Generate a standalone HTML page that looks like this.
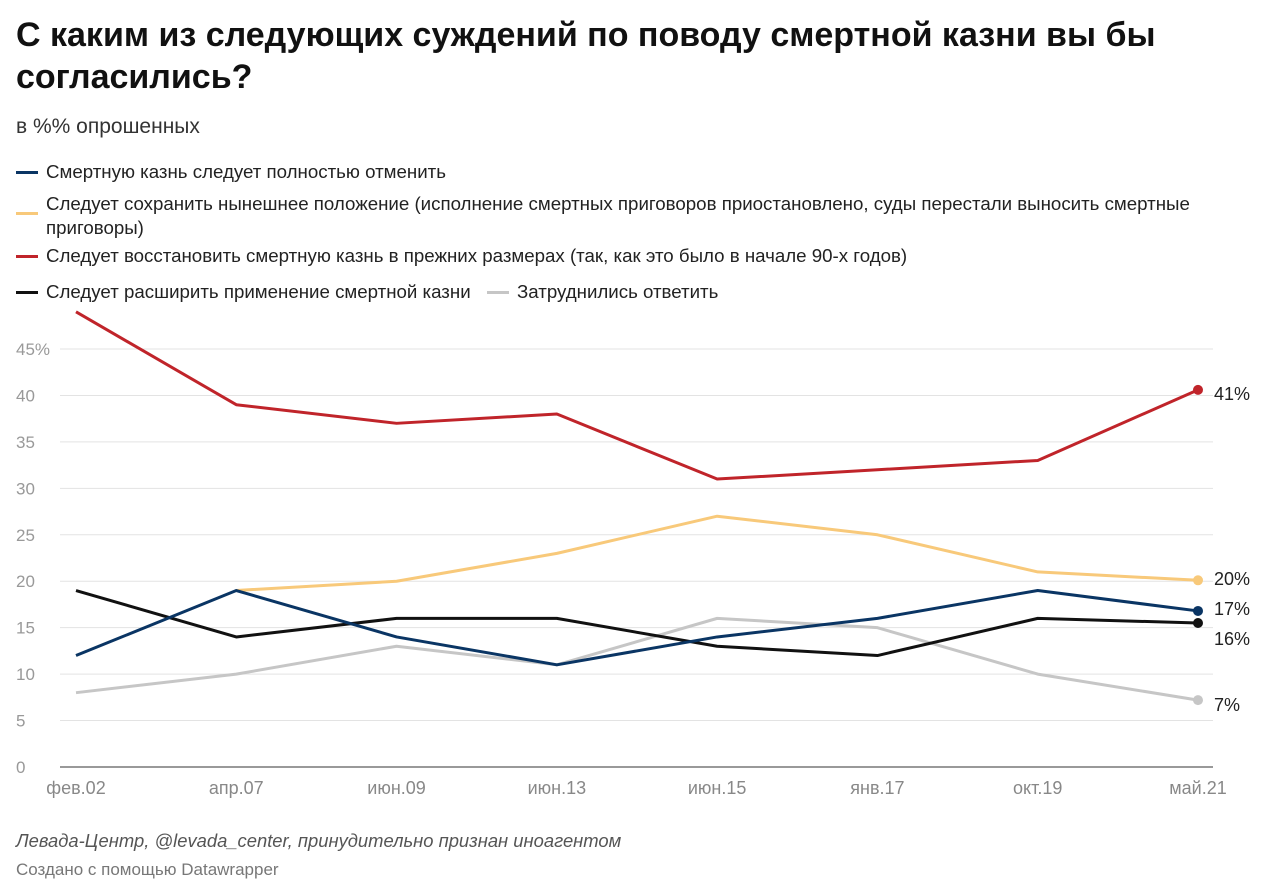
<!DOCTYPE html>
<html><head><meta charset="utf-8"><style>
body{margin:0;background:#fff;font-family:"Liberation Sans","Noto Sans CJK SC",sans-serif;width:1280px;height:896px;overflow:hidden;position:relative}
h1{position:absolute;left:16px;top:14px;margin:0;font-size:34px;line-height:42px;font-weight:bold;color:#111;width:1240px}
.sub{position:absolute;left:16px;top:115px;font-size:21px;color:#333}
.leg{position:absolute;font-size:18.7px;color:#222;line-height:24px}
.sw{position:absolute;width:22px;height:3px}
.foot{position:absolute;left:16px;font-size:18.4px;color:#555}
</style></head><body>
<h1>С каким из следующих суждений по поводу смертной казни вы бы согласились?</h1>
<div class="sub">в %% опрошенных</div>
<div>
<div class="sw" style="left:16px;top:171px;background:#0a3564"></div><div class="leg" style="left:46px;top:160px">Смертную казнь следует полностью отменить</div>
<div class="sw" style="left:16px;top:212px;background:#f8c97a"></div><div class="leg" style="left:46px;top:192px;width:1170px">Следует сохранить нынешнее положение (исполнение смертных приговоров приостановлено, суды перестали выносить смертные приговоры)</div>
<div class="sw" style="left:16px;top:255px;background:#c0242a"></div><div class="leg" style="left:46px;top:244px">Следует восстановить смертную казнь в прежних размерах (так, как это было в начале 90-х годов)</div>
<div class="sw" style="left:16px;top:291px;background:#111"></div><div class="leg" style="left:46px;top:280px">Следует расширить применение смертной казни</div>
<div class="sw" style="left:487px;top:291px;background:#c6c6c6"></div><div class="leg" style="left:517px;top:280px">Затруднились ответить</div>
</div>
<svg id="chart" width="1280" height="896" style="position:absolute;left:0;top:0"></svg>
<div class="foot" style="top:830px;font-style:italic">Левада-Центр, @levada_center, принудительно признан иноагентом</div>
<div class="foot" style="top:860px;font-size:17px;color:#777">Создано с помощью Datawrapper</div>
<script>
const categories=["фев.02","апр.07","июн.09","июн.13","июн.15","янв.17","окт.19","май.21"];
const restore=[49,39,37,38,31,32,33,40.6];
const keep=[null,19,20,23,27,25,21,20.1];
const abolish=[12,19,14,11,14,16,19,16.8];
const expand=[19,14,16,16,13,12,16,15.5];
const unsure=[8,10,13,11,16,15,10,7.2];
const yTicks=[0,5,10,15,20,25,30,35,40,45];
const endLabels=["41%","20%","17%","16%","7%"];
const NS="http://www.w3.org/2000/svg";
const svg=document.getElementById('chart');
const X=i=>76+i*(1198-76)/(categories.length-1);
const Y=v=>767-v*(767-349)/45;
function mk(t,a){const e=document.createElementNS(NS,t);for(const k in a)e.setAttribute(k,a[k]);svg.appendChild(e);return e;}
yTicks.forEach(t=>{
 const g=mk('line',{x1:60,x2:1213,y1:Y(t),y2:Y(t),stroke:t===0?'#333':'#e3e3e3','stroke-width':1});
 
 
 const tx=mk('text',{x:16,y:Y(t)+6,'font-size':17,fill:'#999','font-family':'Liberation Sans'});
 tx.textContent=t===45?'45%':t;
 
 
});
categories.forEach((c,i)=>{
 const tx=mk('text',{x:X(i),y:794,'font-size':18,fill:'#888','text-anchor':'middle','font-family':'Liberation Sans'});
 tx.textContent=c;
 
 
});
const series=[[unsure,'#c6c6c6','unsure',endLabels[4]],[keep,'#f8c97a','keep',endLabels[1]],[expand,'#111','expand',endLabels[3]],[abolish,'#0a3564','abolish',endLabels[2]],[restore,'#c0242a','restore',endLabels[0]]];
const labelY={restore:400,keep:585,abolish:615,expand:645,unsure:711};
series.forEach(([d,c,n,l])=>{
 let p='';d.forEach((v,i)=>{if(v==null)return;p+=(p?'L':'M')+X(i)+','+Y(v);});
 const e=mk('path',{d:p,fill:'none',stroke:c,'stroke-width':3,'stroke-linejoin':'round'});
 
 
 const last=d.length-1;
 const dot=mk('circle',{cx:X(last),cy:Y(d[last]),r:5,fill:c});
 
 
 const t=mk('text',{x:1214,y:labelY[n],'font-size':18,fill:'#222','font-family':'Liberation Sans'});
 t.textContent=l;
 
 
});
</script>
</body></html>
